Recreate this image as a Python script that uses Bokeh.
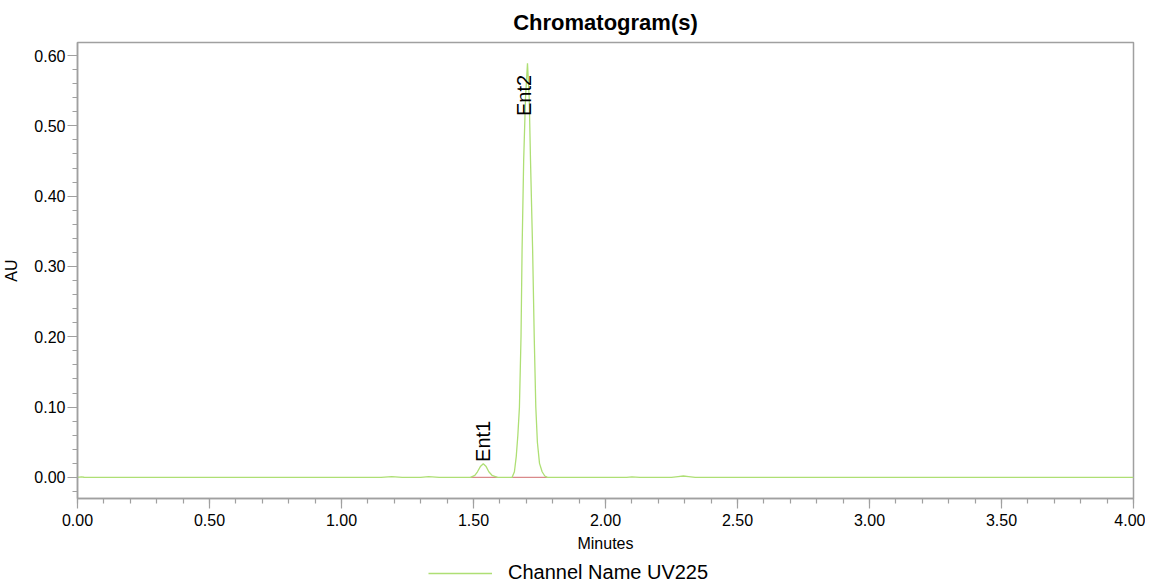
import math
from bokeh.plotting import figure
from bokeh.layouts import column
from bokeh.models import (Range1d, FixedTicker, PrintfTickFormatter, Legend, LegendItem,
                          ColumnDataSource)
from bokeh.core.properties import value
from bokeh.embed import file_html
from bokeh.resources import INLINE

# ---- data ----
time_min = [0.00, 0.015, 0.025, 0.04, 0.60, 1.15, 1.19, 1.23, 1.30, 1.33, 1.37, 1.45, 1.489,
            1.505, 1.515, 1.527, 1.537, 1.547, 1.558, 1.570, 1.591,
            1.646, 1.655, 1.662, 1.668, 1.674, 1.680, 1.684, 1.690, 1.697, 1.7045,
            1.711, 1.716, 1.724, 1.730, 1.736, 1.742, 1.750, 1.760, 1.770, 1.780,
            1.85, 2.00, 2.08, 2.10, 2.13, 2.25, 2.275, 2.295, 2.315, 2.34, 2.60, 3.00, 3.50, 4.00]
au = [0.000, 0.0008, 0.0002, 0.000, 0.000, 0.000, 0.0012, 0.000, 0.000, 0.0010, 0.000, 0.000, 0.000,
      0.003, 0.008, 0.016, 0.0195, 0.016, 0.008, 0.003, 0.000,
      0.000, 0.008, 0.030, 0.060, 0.100, 0.200, 0.323, 0.450, 0.540, 0.589,
      0.540, 0.450, 0.323, 0.200, 0.100, 0.050, 0.020, 0.008, 0.002, 0.000,
      0.000, 0.000, 0.000, 0.0008, 0.000, 0.000, 0.0012, 0.0020, 0.0012, 0.000, 0.000, 0.000, 0.000, 0.000]

baseline_start = [1.489, 1.646]
baseline_end = [1.591, 1.779]
baseline_level = [0.0, 0.0]

peak_names = ["Ent1", "Ent2"]
peak_label_x = [1.537, 1.690]
peak_label_y = [0.022, 0.514]

channel_label = "Channel Name UV225"

x_major = [0.0, 0.5, 1.0, 1.5, 2.0, 2.5, 3.0, 3.5, 4.0]
x_minor = [round(i * 0.1, 2) for i in range(0, 41)]
y_major = [0.0, 0.1, 0.2, 0.3, 0.4, 0.5, 0.6]
y_minor = [round(-0.02 + i * 0.02, 2) for i in range(0, 32)]

FONT = "Liberation Sans"
AXC = "#a0a0a0"
GREEN = "#aedf74"
RED = "#d98a8a"

p = figure(output_backend="svg", toolbar_location=None,
           x_range=Range1d(0, 4.0), y_range=Range1d(-0.030, 0.6185),
           min_border_left=0, min_border_right=12, min_border_top=0, min_border_bottom=0)
p.frame_width = 1056
p.frame_height = 456

p.title.text = "Chromatogram(s)"
p.title.align = "center"
p.title.text_font = FONT
p.title.text_font_size = "22px"
p.title.text_font_style = "bold"
p.title.text_color = "#000000"
p.title.standoff = 15

p.xgrid.visible = False
p.ygrid.visible = False
p.outline_line_color = AXC
p.outline_line_width = 1.5

for ax in (p.xaxis[0], p.yaxis[0]):
    ax.axis_line_color = AXC
    ax.axis_line_width = 1.5
    ax.major_tick_line_color = AXC
    ax.minor_tick_line_color = AXC
    ax.major_tick_line_width = 1.2
    ax.minor_tick_line_width = 1.2
    ax.major_tick_in = 0
    ax.minor_tick_in = 0
    ax.major_tick_out = 10
    ax.minor_tick_out = 5
    ax.major_label_text_font = FONT
    ax.major_label_text_font_size = "16px"
    ax.major_label_text_color = "#000000"
    ax.axis_label_text_font = FONT
    ax.axis_label_text_font_style = "normal"
    ax.axis_label_text_font_size = "16px"
    ax.axis_label_text_color = "#000000"
    ax.formatter = PrintfTickFormatter(format="%.2f")

p.xaxis[0].ticker = FixedTicker(ticks=x_major, minor_ticks=x_minor)
p.yaxis[0].ticker = FixedTicker(ticks=y_major, minor_ticks=y_minor)
p.xaxis[0].axis_label = "Minutes"
p.yaxis[0].axis_label = "AU"
p.xaxis[0].major_label_standoff = 5
p.yaxis[0].major_label_standoff = 2
p.xaxis[0].axis_label_standoff = 6
p.yaxis[0].axis_label_standoff = 11

p.segment(x0=baseline_start, y0=baseline_level, x1=baseline_end, y1=baseline_level,
          line_color=RED, line_width=1.2)
p.line(time_min, au, line_color=GREEN, line_width=1.3)

src = ColumnDataSource(dict(x=peak_label_x, y=peak_label_y, t=peak_names))
p.text(x="x", y="y", text="t", source=src, angle=math.pi / 2, text_align="left",
       text_baseline="middle", text_font=value(FONT), text_font_size="20px", text_color="#000000")

# legend strip below the chart
p2 = figure(output_backend="svg", toolbar_location=None, x_axis_location=None,
            y_axis_location=None, x_range=Range1d(0, 4.0), y_range=Range1d(10, 11),
            min_border=0)
p2.frame_width = 1137
p2.frame_height = 30
p2.outline_line_color = None
p2.xgrid.visible = False
p2.ygrid.visible = False
r2 = p2.line(time_min, au, line_color=GREEN, line_width=1.3)
legend = Legend(items=[LegendItem(label=channel_label, renderers=[r2])],
                orientation="horizontal", location=(428, 0), border_line_color=None,
                background_fill_alpha=0, glyph_width=64, glyph_height=20, label_standoff=16,
                label_text_font=FONT, label_text_font_size="20px", label_text_color="#000000",
                padding=0, margin=0, spacing=0, label_height=20)
p2.add_layout(legend)

open("out.html", "w").write(file_html(column(p, p2, spacing=0), INLINE))
